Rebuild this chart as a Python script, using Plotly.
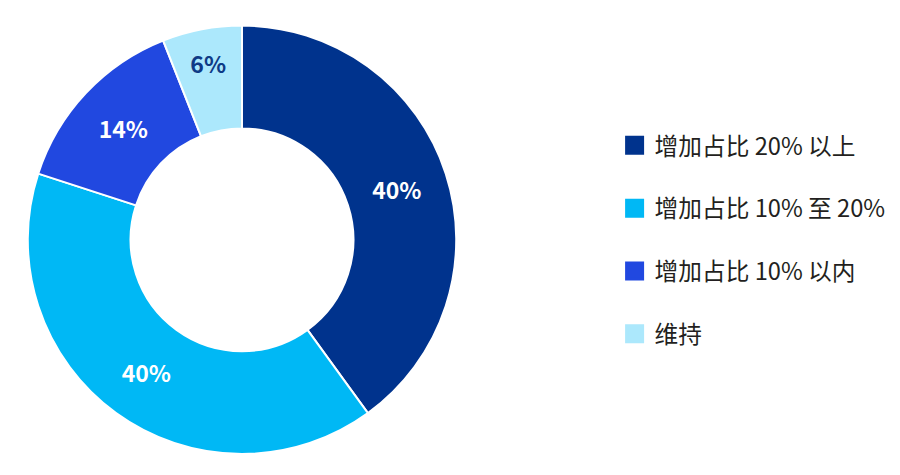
import plotly.graph_objects as go

# 数据
labels = ["增加占比 20% 以上", "增加占比 10% 至 20%", "增加占比 10% 以内", "维持"]
values = [40, 40, 14, 6]
colors = ["#00338D", "#00B8F5", "#2148E0", "#ACE8FC"]
text_colors = ["#FFFFFF", "#FFFFFF", "#FFFFFF", "#0E3A86"]

FONT = "Noto Sans CJK SC"

fig = go.Figure()

fig.add_trace(go.Pie(
    labels=labels,
    values=values,
    sort=False,
    direction="clockwise",
    hole=0.52,
    marker=dict(colors=colors, line=dict(color="white", width=2)),
    texttemplate="<b>%{percent:.0%}</b>",
    textposition="inside",
    insidetextorientation="horizontal",
    textfont=dict(family=FONT, size=23, color=text_colors),
    domain=dict(x=[0.021, 0.499], y=[0.061, 0.963]),
    showlegend=False,
))

# 图例：方块色标
for lab, col in zip(labels, colors):
    fig.add_trace(go.Scatter(
        x=[None], y=[None], mode="markers", name=lab,
        legendgroup=lab,
        marker=dict(symbol="square", size=19, color=col,
                    line=dict(color=col, width=3)),
        hoverinfo="skip",
    ))

fig.update_layout(
    width=900, height=475,
    margin=dict(l=0, r=0, t=0, b=0),
    paper_bgcolor="white",
    plot_bgcolor="white",
    font=dict(family=FONT),
    xaxis=dict(visible=False),
    yaxis=dict(visible=False),
    legend=dict(
        x=0.674, y=0.757, xanchor="left", yanchor="top",
        font=dict(family=FONT, size=23.7, color="#231F20"),
        tracegroupgap=29,
        itemwidth=30,
    ),
)

fig.write_html("out.html")
